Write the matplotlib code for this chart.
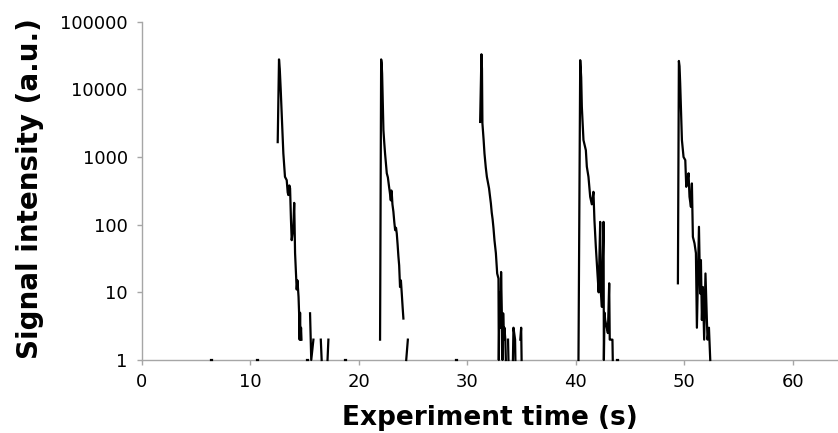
import numpy as np
import matplotlib
matplotlib.use("Agg")
import matplotlib.pyplot as plt
from matplotlib.ticker import NullLocator

nan = np.nan

# ---- data (time in s, signal in a.u.) ----
pulse1_time = [12.53, 12.65, 12.72, 12.81, 12.96, 13.05, 13.20, 13.36, 13.45, 13.51, 13.60, 13.67,
               13.75, 13.82, 13.90, 13.97, 14.05, 14.13, 14.28, 14.35, 14.45, 14.50, 14.55, 14.59,
               14.63, 14.68, 14.72, nan, 15.51, 15.62, 15.82, nan, 16.50, 16.58, nan, 17.12, 17.20]
pulse1_signal = [1660, 27700, 20000, 9700, 2500, 1130, 510, 455, 300, 274, 380, 345,
                 120, 59, 75, 93, 210, 38, 11, 15, 8.6, 5, 2, 5,
                 2, 3, 2, nan, 4.9, 1, 2, nan, 2, 1, nan, 1, 2]

pulse2_time = [21.96, 22.06, 22.10, 22.15, 22.27, 22.35, 22.42, 22.58, 22.68, 22.79, 22.86, 22.95,
               23.00, 23.04, 23.10, 23.19, 23.27, 23.35, 23.43, 23.50, 23.58, 23.65, 23.72, 23.80,
               23.88, 23.96, 24.04, 24.11, nan, 24.37, 24.52]
pulse2_signal = [2, 27700, 25000, 17000, 2500, 1600, 1130, 575, 500, 363, 300, 229,
                 320, 290, 200, 155, 110, 83, 90, 74, 50, 34, 25, 12,
                 15, 9.6, 6, 4.1, nan, 1, 2]

pulse3_time = [31.18, 31.30, 31.35, 31.39, 31.50, 31.58, 31.70, 31.80, 31.90, 32.00, 32.08, 32.17,
               32.25, 32.33, 32.41, 32.50, 32.63, 32.75, 32.87, 32.90, 32.97, 33.05, 33.11, 33.18,
               33.24, 33.30, 33.38, 33.42, 33.50, 33.55, nan, 33.75, 33.79, nan,
               34.20, 34.25, 34.40, 34.43, nan, 34.88, 34.96, 35.00]
pulse3_signal = [3300, 33000, 20000, 3150, 1800, 1130, 700, 510, 420, 345, 270, 206,
                 150, 120, 89, 59, 38, 19, 16, 1, 10, 3, 20, 4.9,
                 1, 4.9, 2, 3, 2, 1, nan, 2, 1, nan,
                 1, 3, 2, 1, nan, 2, 3, 1]

pulse4_time = [40.24, 40.40, 40.49, 40.55, 40.70, 40.92, 41.01, 41.16, 41.32, 41.47, 41.62, 41.71,
               41.84, 41.99, 42.10, 42.24, 42.30, 42.40, 42.55, 42.58, 42.64, 42.70, 42.85, 42.95,
               43.07, 43.12, 43.16, 43.25, 43.37, 43.40]
pulse4_signal = [1, 27000, 15000, 5500, 1780, 1260, 720, 510, 258, 200, 306, 117,
                 47, 19, 10, 110, 10, 6.1, 110, 1, 5, 3.9, 3, 2.5,
                 13.6, 2, 2, 2, 2, 1]

pulse5_time = [49.40, 49.49, 49.55, 49.61, 49.77, 49.92, 50.08, 50.17, 50.29, 50.38, 50.47, 50.60,
               50.69, 50.78, 50.93, 51.06, 51.15, 51.34, 51.45, 51.52, 51.61, 51.70, 51.82, 51.94,
               52.07, 52.13, 52.26, 52.38]
pulse5_signal = [13.6, 26300, 22000, 12300, 1780, 1000, 900, 363, 455, 575, 258, 183,
                 407, 66, 53, 38, 3, 93, 9.6, 30, 3.9, 12, 2, 19,
                 3.9, 2, 3, 1]

baseline_time = [6.40, 6.50, nan, 10.65, 10.75, nan, 15.25, 15.33, nan, 18.75, 18.85, nan,
                 28.95, 29.05, nan, 43.80, 43.90]
baseline_signal = [1, 1, nan, 1, 1, nan, 1, 1, nan, 1, 1, nan, 1, 1, nan, 1, 1]

x_ticks = [0, 10, 20, 30, 40, 50, 60]
y_ticks = [1, 10, 100, 1000, 10000, 100000]
y_tick_labels = ["1", "10", "100", "1000", "10000", "100000"]

# ---- figure ----
plt.rcParams["font.family"] = ["DejaVu Sans"]
W, H = 838, 433
fig = plt.figure(figsize=(W / 100, H / 100), dpi=100)
left_px, right_px, top_px, bottom_px = 141.7, 838.0, 21.7, 360.0
ax = fig.add_axes([left_px / W, 1 - bottom_px / H, (right_px - left_px) / W, (bottom_px - top_px) / H])

series = [(pulse1_time, pulse1_signal), (pulse2_time, pulse2_signal), (pulse3_time, pulse3_signal),
          (pulse4_time, pulse4_signal), (pulse5_time, pulse5_signal), (baseline_time, baseline_signal)]
for t, s in series:
    ax.plot(t, s, color="black", lw=1.6, clip_on=False, zorder=3)

ax.set_yscale("log")
ax.set_ylim(1, 100000)
ax.set_xlim(0, 64.15)
ax.set_yticks(y_ticks)
ax.set_yticklabels(y_tick_labels)
ax.yaxis.set_minor_locator(NullLocator())
ax.set_xticks(x_ticks)
ax.set_xticklabels([str(v) for v in x_ticks])

for side in ("top", "right"):
    ax.spines[side].set_visible(False)
for side in ("left", "bottom"):
    ax.spines[side].set_color("#a6a6a6")
    ax.spines[side].set_linewidth(1.0)

ax.tick_params(axis="both", which="major", direction="out", length=3.6, width=1.0,
               colors="#a6a6a6", labelcolor="black", labelsize=13)
ax.tick_params(axis="y", pad=6.5)
ax.tick_params(axis="x", pad=5.5)

ax.set_xlabel("Experiment time (s)", fontsize=19, fontweight="bold", va="center")
ax.xaxis.set_label_coords(0.5, (bottom_px - 418) / (bottom_px - top_px))
ax.set_ylabel("Signal intensity (a.u.)", fontsize=20, fontweight="bold", va="center")
ax.yaxis.set_label_coords((30 - left_px) / (right_px - left_px), (bottom_px - 189) / (bottom_px - top_px))

fig.savefig("out.png", dpi=100)
